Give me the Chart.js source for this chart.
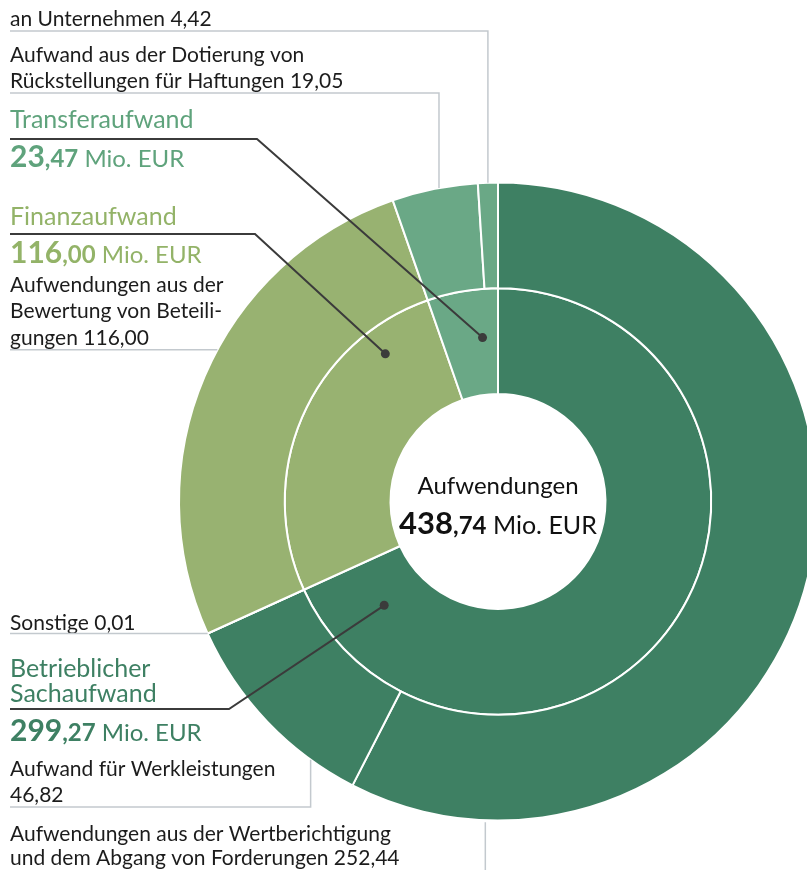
<!DOCTYPE html>
<html>
<head>
<meta charset="utf-8">
<script src="https://cdn.jsdelivr.net/npm/chart.js@4.4.1/dist/chart.umd.min.js"></script>
<style>
  html, body { margin: 0; padding: 0; background: #fff; overflow: hidden; }
  #wrap { width: 807px; height: 870px; overflow: hidden; }
</style>
</head>
<body>
<div id="wrap"><canvas id="aufwand" width="996" height="870"></canvas></div>
<script>
// inner ring: Aufwandsgruppen
const groupLabels = [['Betrieblicher', 'Sachaufwand'], ['Finanzaufwand'], ['Transferaufwand']];
const groupValues = [299.27, 116.00, 23.47];
const groupColors = ['#3e8063', '#98b271', '#6aa886'];
const groupText = ['#3e8063', '#93b368', '#5fa37c'];

// outer ring: Einzelposten (index into group)
const itemLabels = [
  ['Aufwendungen aus der Wertberichtigung', 'und dem Abgang von Forderungen'],
  ['Aufwand für Werkleistungen', ''],
  ['Sonstige'],
  ['Aufwendungen aus der', 'Bewertung von Beteili-', 'gungen'],
  ['Aufwand aus der Dotierung von', 'Rückstellungen für Haftungen'],
  ['an Unternehmen']
];
const itemValues = [252.44, 46.82, 0.01, 116.00, 19.05, 4.42];
const itemGroup = [0, 0, 0, 1, 2, 2];

const FONT = 'Lato, "Open Sans", sans-serif';
const fmt = v => v.toFixed(2).replace('.', ',');

// where the texts sit and how the leader lines run
const groupLayout = [
  { y: [677, 702], lineY: 709, knee: 229, numY: 741, frac: 0.927, rad: 0.44 },
  { y: [225], lineY: 234, knee: 255, numY: 263, frac: 0.81, rad: 0.74 },
  { y: [128], lineY: 139, knee: 257, numY: 167, frac: 0.72, rad: 0.54 }
];
const itemLayout = [
  { y: [841, 865], mode: 'down', frac: 0.88 },
  { y: [776, 802], mode: 'elbow', lineY: 807, frac: 0.23 },
  { y: [630], mode: 'flat', frac: 0.5 },
  { y: [292, 318, 345], mode: 'flat', frac: 0.555 },
  { y: [62, 88], mode: 'elbow', lineY: 93, frac: 0.55 },
  { y: [26], mode: 'elbow', lineY: 31, frac: 0.5 }
];

function arcPoint(arc, frac, rad) {
  const a = arc.startAngle + frac * (arc.endAngle - arc.startAngle);
  const r = arc.innerRadius + rad * (arc.outerRadius - arc.innerRadius);
  return { x: arc.x + r * Math.cos(a), y: arc.y + r * Math.sin(a) };
}

function drawRuns(ctx, x, y, runs) {
  runs.forEach(run => {
    ctx.font = run.font;
    ctx.fillStyle = run.color;
    ctx.fillText(run.text, x, y);
    x += ctx.measureText(run.text).width;
  });
}

function bigNumber(v, color, sizes) {
  const parts = v.toFixed(2).split('.');
  return [
    { text: parts[0], font: 'bold ' + sizes[0] + 'px ' + FONT, color: color },
    { text: ',' + parts[1], font: 'bold ' + sizes[1] + 'px ' + FONT, color: color },
    { text: ' Mio. EUR', font: sizes[2] + 'px ' + FONT, color: color }
  ];
}

const labelPlugin = {
  id: 'labels',
  afterDraw(chart) {
    const ctx = chart.ctx;
    const outer = chart.getDatasetMeta(0).data;
    const inner = chart.getDatasetMeta(1).data;
    ctx.save();
    ctx.textAlign = 'left';
    ctx.textBaseline = 'alphabetic';

    // outer ring texts + grey leaders
    itemLabels.forEach((lines, i) => {
      const lay = itemLayout[i];
      const txt = lines.slice();
      const last = txt.length - 1;
      txt[last] = txt[last] ? txt[last] + ' ' + fmt(itemValues[i]) : fmt(itemValues[i]);
      ctx.font = '21px ' + FONT;
      ctx.fillStyle = '#1c1c1c';
      txt.forEach((t, k) => ctx.fillText(t, 10, lay.y[k]));

      const p = arcPoint(outer[i], lay.frac, 1);
      ctx.strokeStyle = '#c3c9ce';
      ctx.lineWidth = 1.5;
      ctx.beginPath();
      if (lay.mode === 'elbow') {
        ctx.moveTo(10, lay.lineY);
        ctx.lineTo(p.x, lay.lineY);
        ctx.lineTo(p.x, p.y);
      } else if (lay.mode === 'flat') {
        ctx.moveTo(10, p.y);
        ctx.lineTo(p.x, p.y);
      } else {
        ctx.moveTo(p.x, p.y + 2);
        ctx.lineTo(p.x, chart.height);
      }
      ctx.stroke();
    });

    // inner ring headings + dark leaders with dots
    groupLabels.forEach((lines, i) => {
      const lay = groupLayout[i];
      ctx.font = '25px ' + FONT;
      ctx.fillStyle = groupText[i];
      lines.forEach((t, k) => ctx.fillText(t, 10, lay.y[k]));
      drawRuns(ctx, 10, lay.numY, bigNumber(groupValues[i], groupText[i], [30, 24, 24]));

      const p = arcPoint(inner[i], lay.frac, lay.rad);
      ctx.strokeStyle = '#3b3b3b';
      ctx.lineWidth = 2;
      ctx.beginPath();
      ctx.moveTo(10, lay.lineY);
      ctx.lineTo(lay.knee, lay.lineY);
      ctx.lineTo(p.x, p.y);
      ctx.stroke();
      ctx.fillStyle = '#3b3b3b';
      ctx.beginPath();
      ctx.arc(p.x, p.y, 4.5, 0, Math.PI * 2);
      ctx.fill();
    });

    // centre: total
    const cx = inner[0].x, cy = inner[0].y;
    const total = groupValues.reduce((a, b) => a + b, 0);
    ctx.textAlign = 'center';
    ctx.font = '24px ' + FONT;
    ctx.fillStyle = '#111';
    ctx.fillText('Aufwendungen', cx, cy - 8);
    const runs = bigNumber(total, '#111', [31, 24, 25]);
    let w = 0;
    runs.forEach(r => { ctx.font = r.font; w += ctx.measureText(r.text).width; });
    ctx.textAlign = 'left';
    drawRuns(ctx, cx - w / 2, cy + 32, runs);
    ctx.restore();
  }
};

new Chart(document.getElementById('aufwand'), {
  type: 'doughnut',
  data: {
    labels: itemLabels.map(l => l.join(' ')),
    datasets: [
      {
        data: itemValues,
        backgroundColor: itemGroup.map(g => groupColors[g]),
        borderColor: '#fff',
        borderWidth: 2
      },
      {
        data: groupValues,
        backgroundColor: groupColors,
        borderColor: '#fff',
        borderWidth: 2
      }
    ]
  },
  options: {
    responsive: false,
    animation: false,
    cutout: '33.7%',
    layout: { padding: { left: 178, right: 178, top: 181, bottom: 48 } },
    plugins: {
      legend: { display: false },
      tooltip: { enabled: false }
    },
    events: []
  },
  plugins: [labelPlugin]
});
</script>
</body>
</html>
